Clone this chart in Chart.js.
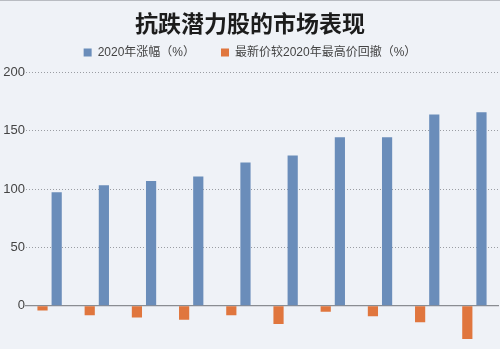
<!DOCTYPE html>
<html>
<head>
<meta charset="utf-8">
<script src="https://cdn.jsdelivr.net/npm/chart.js"></script>
<style>
  html, body { margin: 0; padding: 0; background: #eff2f7; }
  #wrap { position: relative; width: 500px; height: 349px; border-top: 1px solid #b9bcc2; box-sizing: border-box; }
  canvas { display: block; }
</style>
</head>
<body>
<div id="wrap"><canvas id="c"></canvas></div>
<script>
// 抗跌潜力股：2020年涨幅与较最高价回撤
const stocks = ['1', '2', '3', '4', '5', '6', '7', '8', '9', '10'];
const gain2020 = [97.5, 103.5, 107, 111, 123, 129, 144.5, 144.5, 164, 166];
const drawdown = [-4, -8, -10, -12, -8, -15.5, -5, -9, -14, -28.5];
const yTicks = [0, 50, 100, 150, 200];

const FONT = "'Liberation Sans', 'Noto Sans CJK SC', sans-serif";

// a little extra room under the legend
const legendGap = {
  id: 'legendGap',
  beforeInit(chart) {
    const fit = chart.legend.fit;
    chart.legend.fit = function() { fit.call(this); this.height += 4; };
  }
};

new Chart(document.getElementById('c'), {
  type: 'bar',
  data: {
    labels: stocks,
    datasets: [
      { label: '最新价较2020年最高价回撤（%）', data: drawdown, backgroundColor: '#e0763e' },
      { label: '2020年涨幅（%）', data: gain2020, backgroundColor: '#6a8dba' }
    ]
  },
  plugins: [legendGap],
  options: {
    responsive: true,
    maintainAspectRatio: false,
    animation: false,
    layout: { padding: { left: 2, right: 2, top: 0, bottom: 0 } },
    datasets: { bar: { categoryPercentage: 0.6, barPercentage: 0.72 } },
    plugins: {
      tooltip: { enabled: false },
      title: {
        display: true,
        text: '抗跌潜力股的市场表现',
        color: '#1c1c1c',
        font: { family: "'Noto Sans CJK SC', sans-serif", size: 23, weight: 'bold' },
        padding: { top: 8, bottom: -16 }
      },
      legend: {
        labels: {
          sort: (a, b) => b.datasetIndex - a.datasetIndex,
          boxWidth: 8, boxHeight: 8,
          color: '#444',
          padding: 26,
          font: { family: FONT, size: 12 }
        }
      }
    },
    scales: {
      x: {
        position: { y: 0 },
        afterFit: s => { s.height = 0; },
        ticks: { display: false },
        grid: { display: false },
        border: { display: true, color: '#8a8d92', width: 1.2 }
      },
      y: {
        min: -37,
        max: 200,
        afterBuildTicks: s => { s.ticks = yTicks.map(v => ({ value: v })); },
        // the plot runs right down to the bottom edge
        afterFit: s => { s.width = 24; s.paddingTop = 0; s.paddingBottom = 0; },
        ticks: { color: '#444', padding: 1, font: { family: FONT, size: 13 } },
        grid: { drawTicks: false, color: '#9a9da3', lineWidth: 1 },
        border: { display: false, dash: [1, 2] }
      }
    }
  }
});
</script>
</body>
</html>
